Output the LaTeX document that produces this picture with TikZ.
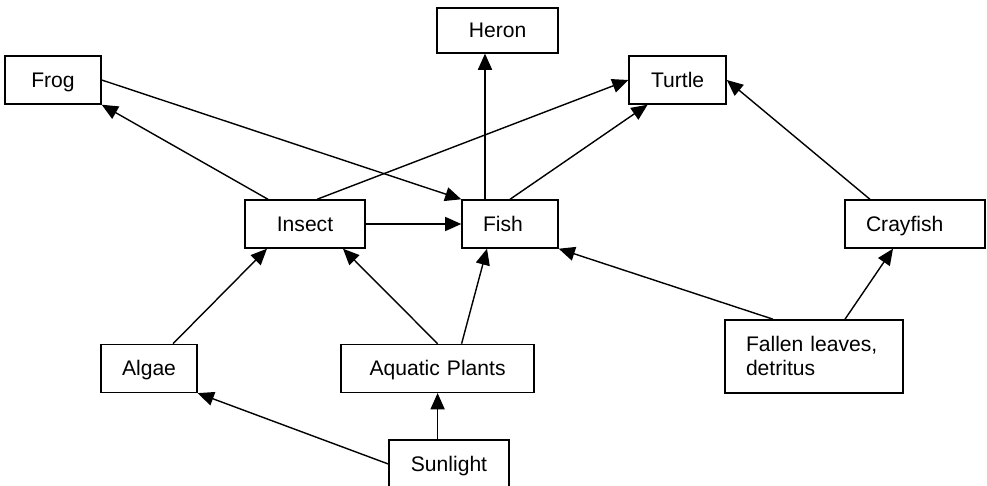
\documentclass[tikz,border=0pt]{standalone}
\usepackage{fontspec}
\setmainfont{Liberation Sans}
\usepackage{tikz}
\usetikzlibrary{positioning, arrows.meta, calc}

\begin{document}
\begin{tikzpicture}[
  plainbox/.style={draw, line width=1pt, inner xsep=0.525cm, inner ysep=0pt, minimum height=1.2cm,
              font=\fontsize{15}{17}\selectfont},
  box/.style={plainbox, align=center, text height=10.7pt, text depth=0pt},
  leftbox/.style={box, align=left},
  notebox/.style={plainbox, align=left},
  arr/.style={-{Triangle[length=11.5pt, width=10pt]}, line width=1pt},
]
\useasboundingbox (0,0) rectangle (24.675,-12.15);

% === Top row: predators ===
\node[box, text width=1.975cm, minimum height=1.125cm] (heron) at (12.44,-0.76) {Heron};
\node[box, text width=1.35cm] (frog) at (1.325,-2.0) {Frog};
\node[box, text width=1.375cm] (turtle) at (16.94,-2.0) {Turtle};

% === Middle row: consumers ===
\node[box, text width=1.95cm] (insect) at (7.625,-5.6) {Insect};
\node[leftbox, text width=1.35cm] (fish) at (12.75,-5.6) {Fish};
\node[leftbox, text width=2.45cm] (crayfish) at (22.875,-5.6) {Crayfish};

% === Bottom rows: producers and sources ===
\node[box, text width=1.35cm] (algae) at (3.725,-9.21) {Algae};
\node[box, text width=3.775cm] (plants) at (10.94,-9.21) {Aquatic Plants};
\node[notebox, text width=3.4cm, minimum height=1.825cm] (leaves) at (20.35,-8.91) {Fallen leaves,\\detritus};
\node[box, text width=1.95cm] (sun) at (11.225,-11.6) {Sunlight};

% === Energy flow ===
\draw[arr] ([xshift=-0.925cm]insect.north) -- (frog.south east);
\draw[arr] (frog.east) -- (fish.north west);
\draw[arr] ([xshift=0.3cm]insect.north) -- (turtle.west);
\draw[arr] ([xshift=-0.625cm]fish.north) -- ([xshift=-0.625cm]fish.north |- heron.south);
\draw[arr] (fish.north) -- ([xshift=-0.75cm]turtle.south);
\draw[arr] (insect.east) -- (fish.west);
\draw[arr] ([xshift=-1.125cm]crayfish.north) -- (turtle.east);
\draw[arr] ([xshift=0.6cm]algae.north) -- ([xshift=-0.95cm]insect.south);
\draw[arr] (plants.north) -- ([xshift=0.95cm]insect.south);
\draw[arr] ([xshift=0.6cm]plants.north) -- ([xshift=-0.575cm]fish.south);
\draw[arr] (plants.south |- sun.north) -- (plants.south);
\draw[arr] (sun.west) -- (algae.south east);
\draw[arr] ([xshift=-1.025cm]leaves.north) -- (fish.south east);
\draw[arr] ([xshift=0.775cm]leaves.north) -- ([xshift=-0.55cm]crayfish.south);

\end{tikzpicture}
\end{document}
